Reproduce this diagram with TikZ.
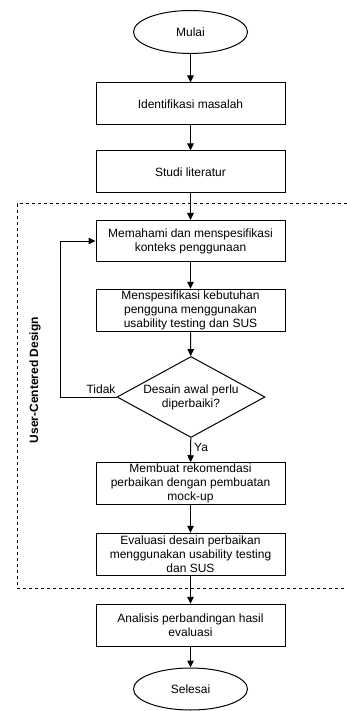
\documentclass[tikz,border=0pt]{standalone}
\usepackage{fontspec}
\setmainfont{Liberation Sans}
\usetikzlibrary{shapes.geometric,arrows.meta}

\begin{document}
\begin{tikzpicture}[x=1pt,y=-1pt,
	every node/.style={font=\fontsize{12}{14}\selectfont, align=center, inner sep=0pt},
	kotak/.style={draw, line width=1pt, minimum width=189pt, minimum height=42pt},
	elips/.style={draw, ellipse, line width=1pt, minimum width=114pt, minimum height=43pt},
	putusan/.style={draw, diamond, line width=1pt, aspect=1.83, minimum width=148pt, minimum height=81pt},
	panah/.style={line width=1pt, -{Stealth[length=7pt,width=6.5pt,inset=0pt]}}]
\useasboundingbox (0,0) rectangle (347,711);

\pgfmathsetmacro{\kolX}{190.5}
\pgfmathsetmacro{\ucdL}{17}
\pgfmathsetmacro{\ucdR}{347}
\pgfmathsetmacro{\ucdAtas}{204}
\pgfmathsetmacro{\ucdBawah}{588}

\node[elips] (mulai) at (\kolX, 32) {Mulai};
\node[kotak] (identifikasi) at (\kolX, 104) {Identifikasi masalah};
\node[kotak] (studi) at (\kolX, 172) {Studi literatur};
\node[kotak, minimum height=41pt] (memahami) at (\kolX, 241) {Memahami dan menspesifikasi\\konteks penggunaan};
\node[kotak, minimum height=42.5pt] (kebutuhan) at (\kolX, 310.5) {Menspesifikasi kebutuhan\\pengguna menggunakan\\usability testing dan SUS};
\node[putusan] (desain) at (191, 397) {Desain awal perlu\\diperbaiki?};
\node[kotak, minimum height=41.5pt] (rekomendasi) at (\kolX, 483.5) {Membuat rekomendasi\\perbaikan dengan pembuatan\\mock-up};
\node[kotak, minimum height=42.5pt] (evaluasi) at (\kolX, 554.5) {Evaluasi desain perbaikan\\menggunakan usability testing\\dan SUS};
\node[kotak, minimum height=42.5pt] (analisis) at (\kolX, 625.5) {Analisis perbandingan hasil\\evaluasi};
\node[elips, minimum height=42pt] (selesai) at (\kolX, 689) {Selesai};

% area user-centered design
\draw[line width=1pt, dash pattern=on 3pt off 3pt] (\ucdR, \ucdAtas) -- (\ucdL, \ucdAtas) -- (\ucdL, \ucdBawah) -- (\ucdR, \ucdBawah);
\node[rotate=90, font=\fontsize{12}{14}\selectfont\bfseries] (ucd) at (35, 380) {User-Centered Design};

\draw[panah] (mulai) -- (identifikasi);
\draw[panah] (identifikasi) -- (studi);
\draw[panah] (studi) -- (memahami);
\draw[panah] (memahami) -- (kebutuhan);
\draw[panah] (kebutuhan) -- (desain);
\draw[panah] (desain) -- (rekomendasi);
\draw[panah] (rekomendasi) -- (evaluasi);
\draw[panah] (evaluasi) -- (analisis);
\draw[panah] (analisis) -- (selesai);

\coordinate (balik) at (60, 397);
\draw[panah] (desain.west) -- (balik) |- (memahami.west);
\node (tidak) at (101, 389) {Tidak};
\node[anchor=west] (ya) at (194, 447) {Ya};
\end{tikzpicture}
\end{document}
